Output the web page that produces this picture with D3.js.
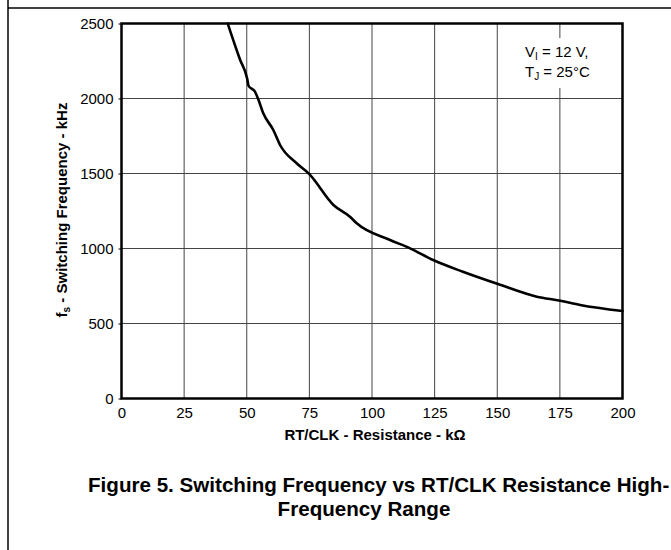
<!DOCTYPE html>
<html>
<head>
<meta charset="utf-8">
<script src="https://cdn.jsdelivr.net/npm/d3@7"></script>
<style>
  html, body { margin: 0; padding: 0; background: #fff; }
  svg { display: block; font-family: "Liberation Sans", Arial, sans-serif; }
</style>
</head>
<body>
<svg id="chart" width="671" height="550"></svg>
<script>
// ---- data ----
const resistance = [42.4, 47.3, 50.2, 50.7, 53.3, 54.6, 56.6, 60.6, 63.3, 69.9, 74.9, 84.6, 91.2, 93.9, 107.2, 115.2, 124.4, 136.3, 150.3, 165.8, 175.1, 183.1, 200];
const frequency  = [2500, 2260, 2130, 2085, 2045, 1995, 1901, 1790, 1690, 1568, 1497, 1290, 1212, 1168, 1057, 1001, 923, 845, 763, 679, 652, 623, 583];
const xTicks = [0, 25, 50, 75, 100, 125, 150, 175, 200];
const yTicks = [0, 500, 1000, 1500, 2000, 2500];

(function () {
const svg = d3.select("#chart");
const pL = 121.5, pR = 622.5, pT = 23.5, pB = 398.5;

const x = d3.scaleLinear().domain([0, 200]).range([pL, pR]);
const y = d3.scaleLinear().domain([0, 2500]).range([pB, pT]);

// page frame lines
svg.append("line").attr("x1", 8).attr("x2", 8).attr("y1", 0).attr("y2", 550)
  .attr("stroke", "#000").attr("stroke-width", 1.5);
svg.append("line").attr("x1", 8).attr("x2", 671).attr("y1", 8).attr("y2", 8)
  .attr("stroke", "#000").attr("stroke-width", 1.5);

// grid
const grid = svg.append("g");
grid.selectAll("line.v").data(xTicks.slice(1, -1)).join("line").attr("class", "v")
  .attr("x1", d => x(d)).attr("x2", d => x(d)).attr("y1", pT).attr("y2", pB)
  .attr("stroke", "#444").attr("stroke-width", 1);
grid.selectAll("line.h").data(yTicks.slice(1, -1)).join("line").attr("class", "h")
  .attr("x1", pL).attr("x2", pR).attr("y1", d => y(d)).attr("y2", d => y(d))
  .attr("stroke", "#444").attr("stroke-width", 1);

// axes (ticks + labels)
const fmt = d3.format("d");
const xAxis = d3.axisBottom(x).tickValues(xTicks).tickFormat(fmt).tickSize(0).tickPadding(9);
const gx = svg.append("g").attr("transform", `translate(0,${pB})`).call(xAxis);
gx.select(".domain").remove();
gx.selectAll("text").attr("font-size", 15).attr("fill", "#000")
  .attr("font-family", "Liberation Sans, Arial, sans-serif");

const yAxis = d3.axisLeft(y).tickValues(yTicks).tickFormat(fmt).tickSize(3).tickPadding(5);
const gy = svg.append("g").attr("transform", `translate(${pL},0)`).call(yAxis);
gy.select(".domain").remove();
gy.selectAll("line").attr("stroke", "#000");
gy.selectAll("text").attr("font-size", 15).attr("fill", "#000")
  .attr("font-family", "Liberation Sans, Arial, sans-serif");

// annotation background
svg.append("rect").attr("x", 520).attr("y", 38).attr("width", 80).attr("height", 50).attr("fill", "#fff");

// curve
const line = d3.line().x((d, i) => x(resistance[i])).y((d, i) => y(frequency[i])).curve(d3.curveMonotoneX);
svg.append("path").datum(frequency).attr("d", line)
  .attr("fill", "none").attr("stroke", "#000").attr("stroke-width", 2.6)
  .attr("stroke-linejoin", "round").attr("stroke-linecap", "round");

// plot frame
svg.append("rect").attr("x", pL).attr("y", pT).attr("width", pR - pL).attr("height", pB - pT)
  .attr("fill", "none").attr("stroke", "#000").attr("stroke-width", 2.5);

// annotation text
const ann = svg.append("text").attr("x", 525).attr("y", 57).attr("font-size", 15).attr("fill", "#000");
ann.append("tspan").text("V");
ann.append("tspan").attr("font-size", 10).attr("dy", 3).text("I");
ann.append("tspan").attr("dy", -3).text(" = 12 V,");
const ann2 = svg.append("text").attr("x", 525).attr("y", 77).attr("font-size", 15).attr("fill", "#000");
ann2.append("tspan").text("T");
ann2.append("tspan").attr("font-size", 10).attr("dy", 3).text("J");
ann2.append("tspan").attr("dy", -3).text(" = 25°C");

// x axis title
svg.append("text").attr("x", 375).attr("y", 440).attr("text-anchor", "middle")
  .attr("font-size", 15).attr("font-weight", "bold").text("RT/CLK - Resistance - kΩ");

// y axis title
const yt = svg.append("text").attr("transform", `translate(67,210) rotate(-90)`)
  .attr("text-anchor", "middle").attr("font-size", 15).attr("font-weight", "bold");
yt.append("tspan").text("f");
yt.append("tspan").attr("font-size", 10).attr("dy", 3).text("s");
yt.append("tspan").attr("dy", -3).text(" - Switching Frequency - kHz");

// caption
svg.append("text").attr("x", 88).attr("y", 492)
  .attr("font-size", 20.6).attr("font-weight", "bold").text("Figure 5. Switching Frequency vs RT/CLK Resistance High-");
svg.append("text").attr("x", 364).attr("y", 516).attr("text-anchor", "middle")
  .attr("font-size", 20.6).attr("font-weight", "bold").text("Frequency Range");
})();
</script>
</body>
</html>
